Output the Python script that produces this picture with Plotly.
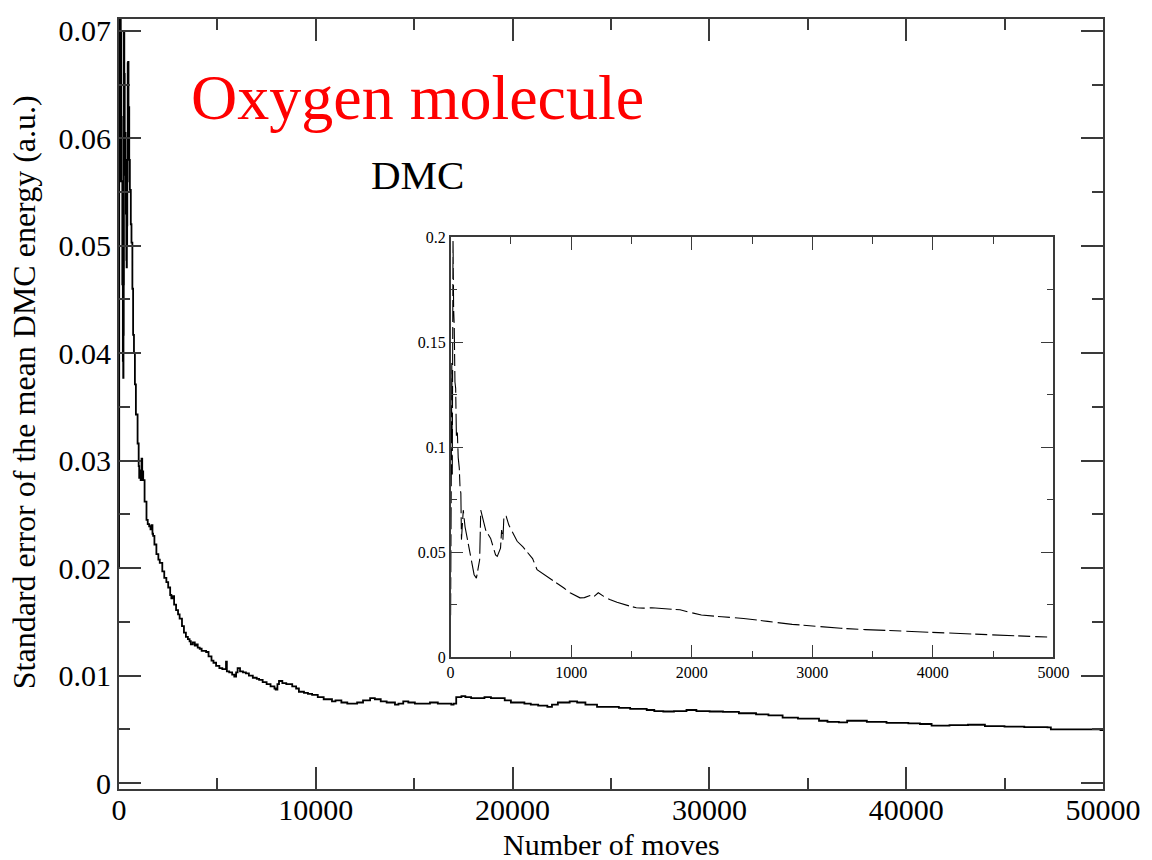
import plotly.graph_objects as go

# Main run: standard error of the mean DMC energy vs number of moves
main_moves = [
    0, 3, 6, 10, 14, 20, 25, 30, 36, 42, 48, 56, 63, 72, 78, 85, 90, 97, 105, 120,
    140, 167, 195, 214, 228, 241, 250, 270, 291, 310, 332, 350, 373, 387, 400, 414,
    423, 434, 442, 461, 483, 520, 552, 600, 634, 680, 717, 760, 808, 858, 944, 1000,
    1027, 1060, 1100, 1145, 1180, 1229, 1300, 1397, 1460, 1532, 1600, 1650, 1700,
    1734, 1800, 1900, 2000, 2071, 2200, 2300, 2407, 2500, 2600, 2660, 2720, 2800,
    2900, 3000, 3081, 3200, 3300, 3400, 3500, 3586, 3650, 3750, 3850, 3922, 4000,
    4100, 4200, 4300, 4427, 4550, 4700, 4800, 4933, 5100, 5250, 5400, 5438, 5480,
    5600, 5750, 5858, 5950, 6027, 6150, 6300, 6448, 6600, 6800, 7000, 7120, 7300,
    7500, 7700, 7900, 7963, 8050, 8130, 8300, 8500, 8802, 9000, 9141, 9400, 9600,
    9812, 10100, 10400, 10822, 11000, 11300, 11600, 11833, 12100, 12400, 12760,
    13000, 13300, 13600, 14023, 14200, 14443, 14700, 15033, 15400, 15800, 16200,
    16500, 16883, 17000, 17135, 17400, 17600, 17893, 18200, 18570, 18900, 19240,
    19600, 19914, 20300, 20600, 20924, 21300, 21766, 22000, 22300, 22608, 22900,
    23280, 23700, 24290, 24800, 25400, 25973, 26400, 26815, 27200, 27656, 28200,
    28836, 29340, 30012, 30690, 31500, 32370, 33000, 33720, 34500, 35570, 36000,
    36580, 37000, 37420, 38000, 39000, 40110, 40700, 41290, 42200, 43140, 44000,
    44995, 46000, 47180, 47350, 48500, 49875, 50000,
]
main_err = [
    0.020, 0.0745, 0.030, 0.140, 0.087, 0.199, 0.166, 0.158, 0.131, 0.128, 0.105,
    0.107, 0.095, 0.090, 0.081, 0.078, 0.056, 0.067, 0.070, 0.062, 0.056, 0.0464,
    0.0393, 0.0377, 0.0417, 0.0464, 0.0700, 0.066, 0.0605, 0.058, 0.0566, 0.053,
    0.0487, 0.0480, 0.050, 0.0519, 0.0605, 0.0560, 0.0670, 0.0671, 0.0629, 0.058,
    0.0552, 0.052, 0.0503, 0.046, 0.0417, 0.040, 0.0371, 0.0343, 0.0316, 0.0295,
    0.0284, 0.0291, 0.0282, 0.0302, 0.0290, 0.0282, 0.0262, 0.0245, 0.0241, 0.0239,
    0.0236, 0.0240, 0.0232, 0.0230, 0.0222, 0.0213, 0.0208, 0.0205, 0.0197, 0.0191,
    0.0187, 0.0182, 0.0175, 0.0172, 0.0174, 0.0166, 0.0161, 0.0157, 0.0153, 0.0146,
    0.0140, 0.0136, 0.0134, 0.0132, 0.0129, 0.0131, 0.0128, 0.0129, 0.0126, 0.0125,
    0.0123, 0.0123, 0.0122, 0.0118, 0.0114, 0.0112, 0.0109, 0.0107, 0.0106, 0.0106,
    0.0113, 0.0104, 0.0103, 0.0101, 0.0099, 0.0103, 0.0107, 0.0104, 0.0103, 0.0102,
    0.0100, 0.0098, 0.0097, 0.0096, 0.0094, 0.0092, 0.0090, 0.0088, 0.0087, 0.0092,
    0.0095, 0.0093, 0.0092, 0.0090, 0.0088, 0.0085, 0.0084, 0.0083, 0.0082, 0.0080,
    0.0078, 0.0076, 0.0077, 0.0075, 0.0074, 0.0074, 0.0075, 0.0077, 0.0079, 0.0078,
    0.0076, 0.0075, 0.0073, 0.0074, 0.0076, 0.0075, 0.0074, 0.0074, 0.0075, 0.0074,
    0.0074, 0.0073, 0.0074, 0.0080, 0.0081, 0.0080, 0.0079, 0.0079, 0.0080, 0.0079,
    0.0079, 0.0077, 0.0075, 0.0075, 0.0074, 0.0073, 0.0072, 0.0071, 0.0073, 0.0075,
    0.0075, 0.0076, 0.0075, 0.0073, 0.0071, 0.0071, 0.0070, 0.0069, 0.0069, 0.0068,
    0.0067, 0.00666, 0.0067, 0.0068, 0.0067, 0.00666, 0.00663, 0.0065, 0.0064,
    0.0063, 0.0061, 0.0060, 0.0058, 0.0057, 0.00565, 0.0058, 0.0058, 0.0057, 0.0056,
    0.00555, 0.0055, 0.00534, 0.0054, 0.00543, 0.0053, 0.00525, 0.0052, 0.00518,
    0.0050, 0.0050, 0.00494, 0.0049,
]

# Inset: the first 5000 moves
inset_moves = [
    0, 3, 6, 10, 14, 20, 25, 30, 36, 42, 48, 56, 63, 72, 78, 85, 90, 97, 105, 120,
    140, 167, 195, 214, 228, 241, 250, 291, 332, 373, 387, 414, 423, 434, 442, 461,
    483, 520, 552, 600, 634, 680, 717, 760, 799, 840, 881, 940, 991, 1030, 1073,
    1110, 1156, 1190, 1225, 1270, 1320, 1380, 1430, 1490, 1540, 1600, 1670, 1780,
    1903, 2000, 2080, 2250, 2430, 2630, 2833, 3030, 3237, 3440, 3640, 3800, 3992,
    4200, 4398, 4600, 4832, 4948,
]
inset_err = [
    0.020, 0.0745, 0.030, 0.140, 0.087, 0.199, 0.166, 0.158, 0.131, 0.128, 0.105,
    0.107, 0.095, 0.090, 0.081, 0.078, 0.056, 0.067, 0.070, 0.062, 0.056, 0.0464,
    0.0393, 0.0377, 0.0417, 0.0464, 0.070, 0.0605, 0.0566, 0.0487, 0.048, 0.0519,
    0.0605, 0.056, 0.067, 0.0671, 0.0629, 0.0590, 0.0552, 0.0525, 0.0503, 0.0470,
    0.0417, 0.0400, 0.0387, 0.0372, 0.0354, 0.0330, 0.0307, 0.0295, 0.0283, 0.0284,
    0.0294, 0.0290, 0.0307, 0.0290, 0.0275, 0.0262, 0.0252, 0.0243, 0.0236, 0.0234,
    0.0236, 0.0232, 0.0226, 0.0212, 0.0201, 0.0193, 0.0185, 0.0171, 0.0157, 0.0148,
    0.0138, 0.0132, 0.0127, 0.0122, 0.0118, 0.0114, 0.0110, 0.0104, 0.0099, 0.0097,
]

SERIF = "Liberation Serif, Times New Roman, serif"
FRAME = "#3a3a3a"

fig = go.Figure()
fig.add_trace(go.Scatter(
    x=main_moves, y=main_err, mode="lines", line_shape="hv",
    line=dict(color="black", width=1.8), showlegend=False,
    xaxis="x", yaxis="y",
))
fig.add_trace(go.Scatter(
    x=inset_moves, y=inset_err, mode="lines",
    line=dict(color="black", width=1.1, dash="22px,4px,12px,5px"), showlegend=False,
    xaxis="x2", yaxis="y2",
))

main_axis = dict(
    showgrid=False, zeroline=False, showline=True, mirror="allticks",
    linecolor=FRAME, linewidth=2, ticks="inside", tickcolor=FRAME,
    tickwidth=2, ticklen=22, tickfont=dict(family=SERIF, size=30, color="black"),
)
inset_axis = dict(
    showgrid=False, zeroline=False, showline=True, mirror="allticks",
    linecolor=FRAME, linewidth=1.5, ticks="inside", tickcolor=FRAME,
    tickwidth=1.3, ticklen=13, tickfont=dict(family=SERIF, size=16, color="black"),
)

fig.update_layout(
    width=1152, height=860,
    margin=dict(l=119, r=42, t=11, b=71),
    paper_bgcolor="white", plot_bgcolor="white",
    xaxis=dict(main_axis, range=[0, 50000], dtick=10000, tick0=0, tickformat="d",
               ticklabelstandoff=-7,
               minor=dict(dtick=5000, ticklen=11, ticks="inside", tickcolor=FRAME, tickwidth=2)),
    yaxis=dict(main_axis, range=[-0.00055, 0.0711], dtick=0.01, tick0=0,
               minor=dict(dtick=0.005, ticklen=11, ticks="inside", tickcolor=FRAME, tickwidth=2)),
    xaxis2=dict(inset_axis, domain=[0.337, 0.9496], anchor="y2", range=[0, 5000],
                dtick=1000, tick0=0, tickformat="d",
                minor=dict(dtick=500, ticklen=7, ticks="inside", tickcolor=FRAME, tickwidth=1.3)),
    yaxis2=dict(inset_axis, domain=[0.171, 0.717], anchor="x2", range=[0, 0.2],
                dtick=0.05, tick0=0,
                minor=dict(dtick=0.025, ticklen=7, ticks="inside", tickcolor=FRAME, tickwidth=1.3)),
    annotations=[
        dict(text="Oxygen molecule", xref="paper", yref="paper", x=0.3037, y=0.8975,
             xanchor="center", yanchor="middle", showarrow=False,
             font=dict(family=SERIF, size=64, color="#ff0000")),
        dict(text="DMC", xref="paper", yref="paper", x=0.3037, y=0.797,
             xanchor="center", yanchor="middle", showarrow=False,
             font=dict(family=SERIF, size=41, color="black")),
        dict(text="Number of moves", xref="paper", yref="paper", x=0.5005, y=-0.0725,
             xanchor="center", yanchor="middle", showarrow=False,
             font=dict(family=SERIF, size=30, color="black")),
        dict(text="Standard error of the mean DMC energy (a.u.)", xref="paper", yref="paper",
             x=-0.0965, y=0.5154, xanchor="center", yanchor="middle", textangle=-90,
             showarrow=False, font=dict(family=SERIF, size=32, color="black")),
    ],
)

fig.write_html("out.html")
